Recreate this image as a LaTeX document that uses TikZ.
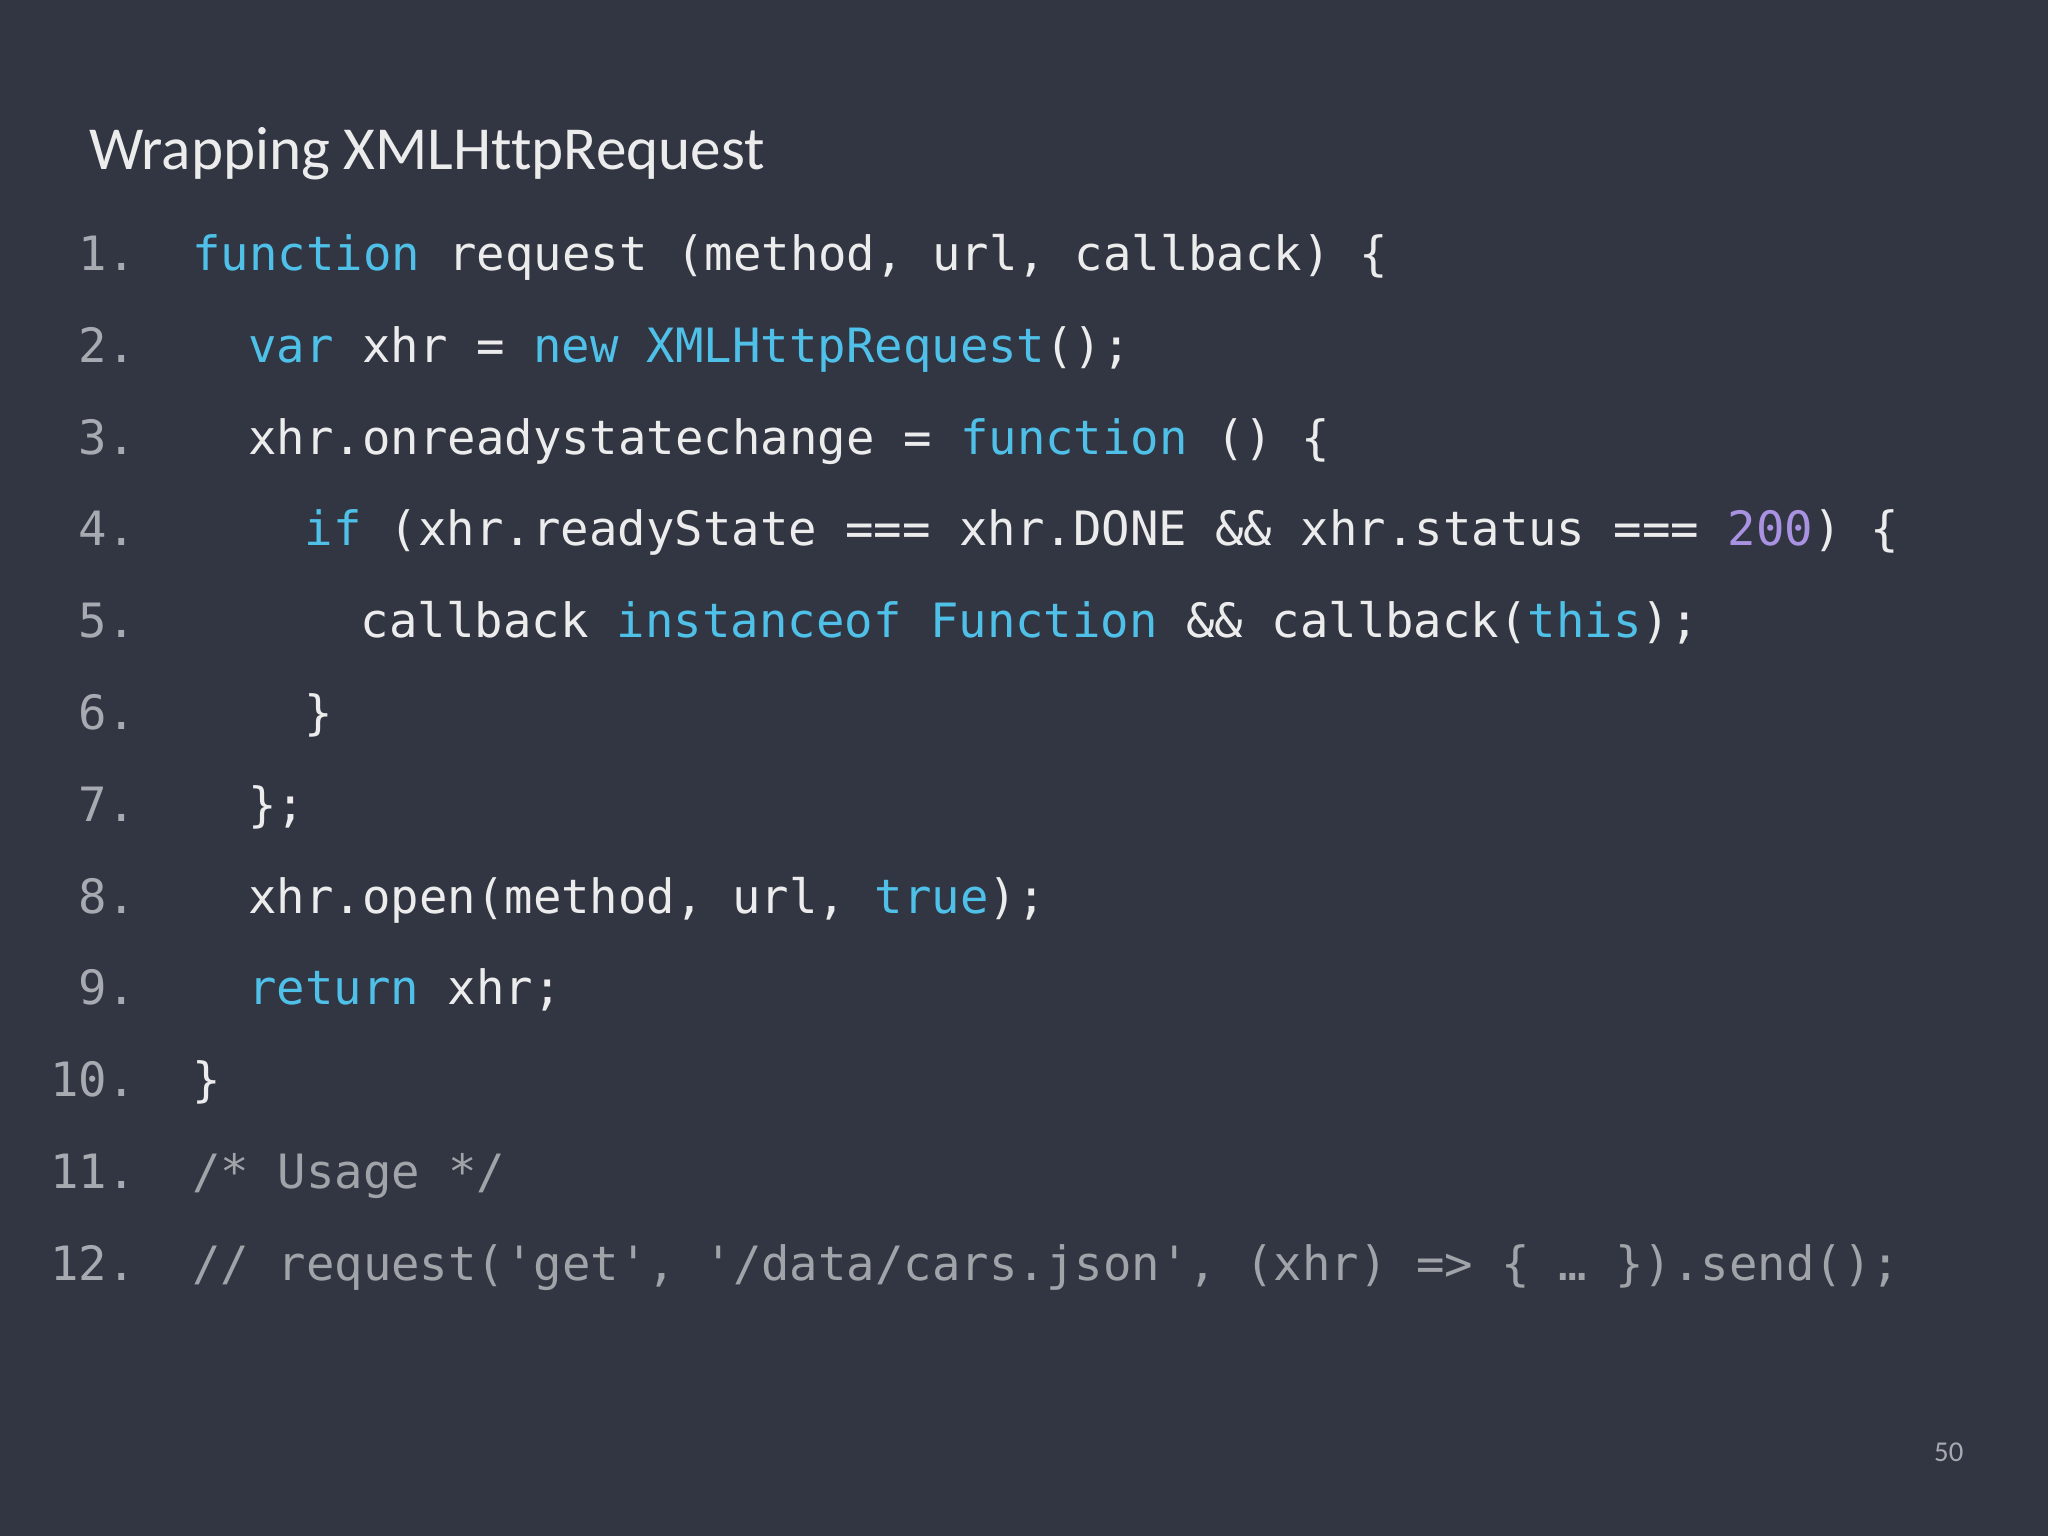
\documentclass[tikz,border=0pt]{standalone}
\usepackage{fontspec}
\setmainfont{Carlito}[Ligatures={NoCommon}]
\setmonofont{DejaVu Sans Mono}
\definecolor{bg}{HTML}{323643}
\definecolor{fg}{HTML}{ECECEC}
\definecolor{kw}{HTML}{4FC1E9}
\definecolor{num}{HTML}{A992E2}
\definecolor{cm}{HTML}{A0A3A8}
\definecolor{ln}{HTML}{A7AAB0}
\newcommand{\K}[1]{\textcolor{kw}{#1}}
\newcommand{\N}[1]{\textcolor{num}{#1}}
\tikzset{code/.style={anchor=base west,inner sep=0pt,text=fg,font=\fontsize{36.2}{40}\selectfont\ttfamily},
lnum/.style={anchor=base east,inner sep=0pt,text=ln,font=\fontsize{36.2}{40}\selectfont\ttfamily}}
\begin{document}
\begin{tikzpicture}[x=1pt,y=-1pt]
\fill[bg] (0,0) rectangle (1568,1176);
\useasboundingbox (0,0) rectangle (1568,1176);
\node[anchor=base west,inner sep=0pt,text=fg,font=\fontsize{46.8}{50}\selectfont] (title) at (68,130) {Wrapping XMLHttpRequest};
\foreach \i in {1,...,12}{\node[lnum] (n\i) at (104,{207+70.3*(\i-1)}) {\i.};}
\def\yy#1{{207+70.3*(#1-1)}}
\node[code] (l1) at (147,\yy1) {\K{function} request (method, url, callback) \{};
\node[code] (l2) at (190,\yy2) {\K{var} xhr = \K{new} \K{XMLHttpRequest}();};
\node[code] (l3) at (190,\yy3) {xhr.onreadystatechange = \K{function} () \{};
\node[code] (l4) at (233,\yy4) {\K{if} (xhr.readyState === xhr.DONE \&\& xhr.status === \N{200}) \{};
\node[code] (l5) at (276,\yy5) {callback \K{instanceof} \K{Function} \&\& callback(\K{this});};
\node[code] (l6) at (233,\yy6) {\}};
\node[code] (l7) at (190,\yy7) {\};};
\node[code] (l8) at (190,\yy8) {xhr.open(method, url, \K{true});};
\node[code] (l9) at (190,\yy9) {\K{return} xhr;};
\node[code] (l10) at (147,\yy{10}) {\}};
\node[code,text=cm] (l11) at (147,\yy{11}) {/* Usage */};
\node[code,text=cm] (l12) at (147,\yy{12}) {// request('get', '/data/cars.json', (xhr) => \{ … \}).send();};
\node[anchor=base,inner sep=0pt,text=ln,font=\fontsize{22}{24}\selectfont] (pg) at (1492,1119) {50};
\end{tikzpicture}
\end{document}
